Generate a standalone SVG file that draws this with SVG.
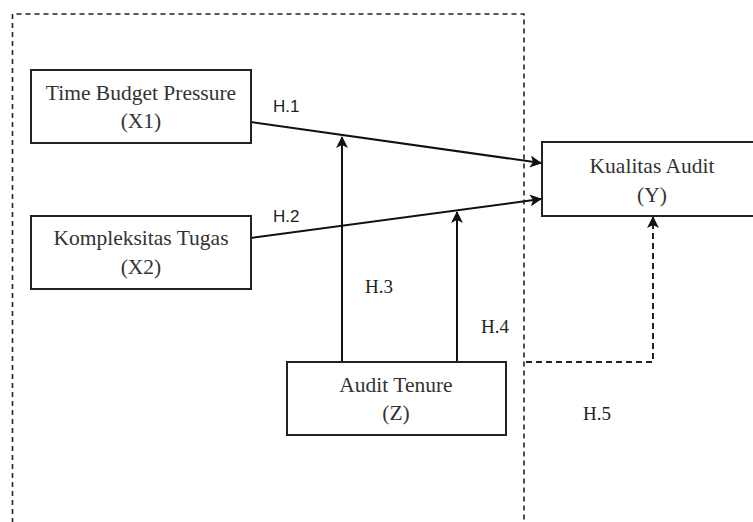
<svg xmlns="http://www.w3.org/2000/svg" width="753" height="522" viewBox="0 0 753 522">
<defs>
<marker id="arr" markerWidth="12" markerHeight="12" refX="11" refY="6" orient="auto" markerUnits="userSpaceOnUse">
<path d="M0,0 L12,6 L0,12 L3,6 Z" fill="#111"/>
</marker>
<style>
.box{fill:#fff;stroke:#222;stroke-width:2}
.lbl{font-family:'Liberation Serif','DejaVu Serif',serif;font-size:21.5px;fill:#333;text-anchor:middle}
.hs{font-family:'Liberation Sans',Arial,sans-serif;font-size:17px;fill:#222}
.hr{font-family:'Liberation Serif','DejaVu Serif',serif;font-size:19px;fill:#222}
.con{stroke:#111;stroke-width:2;fill:none}
.dash{stroke:#222;stroke-width:2;fill:none;stroke-dasharray:6,4}
</style>
</defs>
<rect width="753" height="522" fill="#fff"/>
<path class="dash" d="M12.5,523 L12.5,14 L524,14 L524,523 Z" style="stroke-width:1.6;stroke-dasharray:5,4"/>
<g id="connectors">
<line class="con" x1="251" y1="122" x2="541" y2="163" marker-end="url(#arr)"/>
<line class="con" x1="251" y1="238" x2="541" y2="199" marker-end="url(#arr)"/>
<line class="con" x1="342" y1="362" x2="342" y2="137" marker-end="url(#arr)"/>
<line class="con" x1="457" y1="362" x2="457" y2="212" marker-end="url(#arr)"/>
<path class="dash" d="M526,362 L653,362 L653,217" marker-end="url(#arr)"/>
<text class="hs" x="273" y="112">H.1</text>
<text class="hs" x="273" y="222">H.2</text>
<text class="hr" x="365" y="293">H.3</text>
<text class="hr" x="481" y="333">H.4</text>
<text class="hr" x="583" y="420">H.5</text>
</g>
<g id="x1">
<rect class="box" x="31" y="70" width="220" height="73"/>
<text class="lbl" x="141" y="100">Time Budget Pressure</text>
<text class="lbl" x="141" y="128">(X1)</text>
</g>
<g id="x2">
<rect class="box" x="31" y="216" width="220" height="73"/>
<text class="lbl" x="141" y="245">Kompleksitas Tugas</text>
<text class="lbl" x="141" y="274">(X2)</text>
</g>
<g id="y">
<rect class="box" x="542" y="142" width="230" height="74"/>
<text class="lbl" x="652" y="173">Kualitas Audit</text>
<text class="lbl" x="652" y="202">(Y)</text>
</g>
<g id="z">
<rect class="box" x="287" y="362" width="219" height="73"/>
<text class="lbl" x="396" y="392">Audit Tenure</text>
<text class="lbl" x="396" y="420">(Z)</text>
</g>
</svg>
